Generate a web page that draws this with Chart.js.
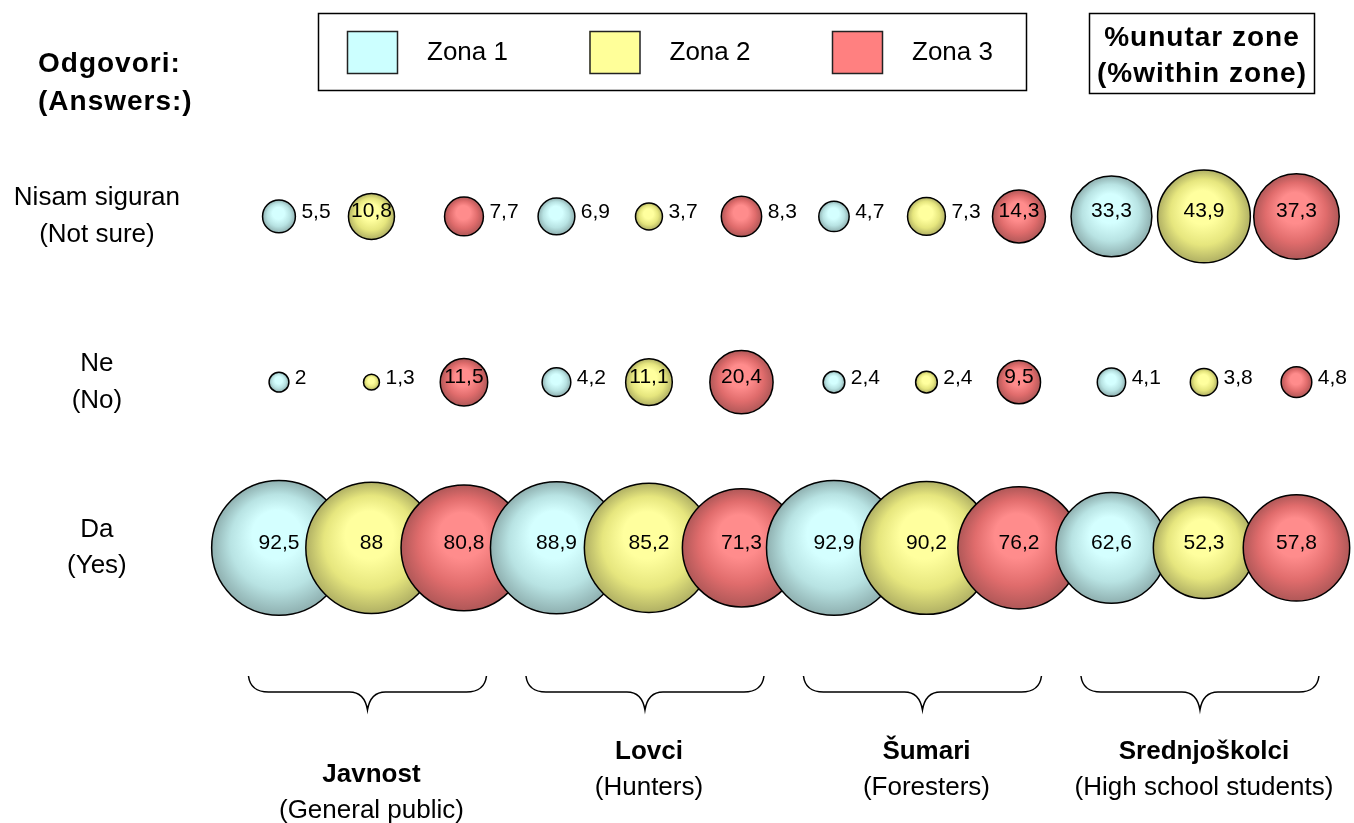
<!DOCTYPE html>
<html>
<head>
<meta charset="utf-8">
<script src="https://cdn.jsdelivr.net/npm/chart.js@4.4.1/dist/chart.umd.min.js"></script>
<style>
  html, body { margin: 0; padding: 0; background: #fff; }
  #wrap { width: 1354px; height: 823px; position: relative; }
</style>
</head>
<body>
<div id="wrap"><canvas id="chart"></canvas></div>
<script>
// --- data (values in %) ---
const zones = ['Zona 1', 'Zona 2', 'Zona 3'];
const groups = ['Javnost', 'Lovci', 'Šumari', 'Srednjoškolci'];
const groupsEn = ['(General public)', '(Hunters)', '(Foresters)', '(High school students)'];
const answers = [['Da', '(Yes)'], ['Ne', '(No)'], ['Nisam siguran', '(Not sure)']];

// one value per group, order: Javnost, Lovci, Šumari, Srednjoškolci
const zona1Da = [92.5, 88.9, 92.9, 62.6];
const zona1Ne = [2, 4.2, 2.4, 4.1];
const zona1Nisam = [5.5, 6.9, 4.7, 33.3];
const zona2Da = [88, 85.2, 90.2, 52.3];
const zona2Ne = [1.3, 11.1, 2.4, 3.8];
const zona2Nisam = [10.8, 3.7, 7.3, 43.9];
const zona3Da = [80.8, 71.3, 76.2, 57.8];
const zona3Ne = [11.5, 20.4, 9.5, 4.8];
const zona3Nisam = [7.7, 8.3, 14.3, 37.3];

const zoneSeries = [
  [zona1Da, zona1Ne, zona1Nisam],
  [zona2Da, zona2Ne, zona2Nisam],
  [zona3Da, zona3Ne, zona3Nisam]
];

const zoneLight = ['#d4ffff', '#ffff9e', '#ff8c8c'];
const zoneMid = ['#b8e3e3', '#e6e67e', '#e06c6c'];
const zoneDark = ['#8fb0b0', '#b0b064', '#b05858'];
const zoneFill = ['#ccffff', '#ffff99', '#ff8080'];

const FONT = "'Liberation Sans', Arial, sans-serif";
const bubbleScale = 7; // radius px per sqrt(%)

// build points column by column so that later bubbles draw on top
const points = [];
groups.forEach((g, gi) => {
  zones.forEach((z, zi) => {
    answers.forEach((a, ai) => {
      const v = zoneSeries[zi][ai][gi];
      points.push({ x: gi * 3 + zi, y: ai, r: bubbleScale * Math.sqrt(v), v: v, zone: zi });
    });
  });
});

const fmt = v => String(v).replace('.', ',');

// radial shading, computed from the scales
const shade = (ctx) => {
  const p = ctx.raw;
  if (!p || ctx.type !== 'data') return zoneFill[0];
  const chart = ctx.chart;
  const xs = chart.scales.x, ys = chart.scales.y;
  if (!xs || !ys || !chart.chartArea) return zoneFill[p.zone];
  const cx = xs.getPixelForValue(p.x);
  const cy = ys.getPixelForValue(p.y);
  if (!isFinite(cx) || !isFinite(cy)) return zoneFill[p.zone];
  const r = p.r;
  const g = chart.ctx.createRadialGradient(cx - r * 0.05, cy - r * 0.3, r * 0.02, cx, cy, r);
  g.addColorStop(0, zoneLight[p.zone]);
  g.addColorStop(0.35, zoneLight[p.zone]);
  g.addColorStop(0.7, zoneMid[p.zone]);
  g.addColorStop(1, zoneDark[p.zone]);
  return g;
};

const decor = {
  id: 'decor',
  afterDatasetsDraw(chart) {
    const c = chart.ctx;
    const meta = chart.getDatasetMeta(0);
    c.save();
    c.fillStyle = '#000';
    c.font = '21px ' + FONT;
    c.textBaseline = 'middle';
    meta.data.forEach((el, i) => {
      const p = points[i];
      const txt = fmt(p.v);
      if (p.v >= 9) {
        c.textAlign = 'center';
        c.fillText(txt, el.x, el.y - 5);
      } else {
        c.textAlign = 'left';
        c.fillText(txt, el.x + p.r + 6, el.y - 4);
      }
    });
    c.restore();
  },
  afterDraw(chart) {
    const c = chart.ctx;
    const xs = chart.scales.x;
    c.save();
    c.fillStyle = '#000';
    c.strokeStyle = '#000';

    // title on the left
    c.font = 'bold 28px ' + FONT;
    c.letterSpacing = '1px';
    c.textAlign = 'left';
    c.textBaseline = 'middle';
    c.fillText('Odgovori:', 38, 64);
    c.fillText('(Answers:)', 38, 102);

    // "% within zone" box
    c.lineWidth = 1.5;
    c.strokeRect(1089.5, 13.5, 225, 80);
    c.textAlign = 'center';
    c.fillText('%unutar zone', 1202, 38);
    c.fillText('(%within zone)', 1202, 74);
    c.letterSpacing = '0px';

    // legend box
    c.strokeRect(318.5, 13.5, 708, 77);
    c.font = '26px ' + FONT;
    zones.forEach((z, i) => {
      const sx = 347 + i * 242.5;
      c.fillStyle = zoneFill[i];
      c.fillRect(sx, 31, 50, 42);
      c.strokeStyle = '#222';
      c.strokeRect(sx + 0.5, 31.5, 50, 42);
      c.fillStyle = '#000';
      c.textAlign = 'left';
      c.fillText(z, sx + 80, 53);
    });

    // braces + group names
    c.strokeStyle = '#000';
    groups.forEach((g, gi) => {
      const cx = xs.getPixelForValue(gi * 3 + 1) - 4;
      const hw = 119, top = 676, mid = 692, tip = 710;
      c.beginPath();
      c.lineWidth = 1.5;
      c.moveTo(cx - hw, top);
      c.quadraticCurveTo(cx - hw + 2, mid, cx - hw + 20, mid);
      c.lineTo(cx - 18, mid);
      c.quadraticCurveTo(cx - 3, mid, cx, tip);
      c.quadraticCurveTo(cx + 3, mid, cx + 18, mid);
      c.lineTo(cx + hw - 20, mid);
      c.quadraticCurveTo(cx + hw - 2, mid, cx + hw, top);
      c.stroke();

      const ty = gi === 0 ? 775 : 752;
      c.textAlign = 'center';
      c.font = 'bold 26px ' + FONT;
      c.fillText(g, cx + 4, ty);
      c.font = '26px ' + FONT;
      c.fillText(groupsEn[gi], cx + 4, ty + 36);
    });
    c.restore();
  }
};

new Chart(document.getElementById('chart'), {
  type: 'bubble',
  data: {
    datasets: [{
      label: 'odgovori',
      data: points,
      backgroundColor: shade,
      borderColor: '#000',
      borderWidth: 1.5,
      clip: false
    }]
  },
  options: {
    responsive: true,
    maintainAspectRatio: false,
    animation: false,
    events: [],
    layout: { autoPadding: false, padding: { left: 0, right: 10, top: 117, bottom: 126 } },
    plugins: { legend: { display: false }, tooltip: { enabled: false } },
    scales: {
      x: {
        type: 'linear',
        display: false,
        min: -1.07,
        max: 11.514
      },
      y: {
        type: 'linear',
        min: -0.9,
        max: 2.6,
        border: { display: false },
        grid: { display: false, drawTicks: false },
        afterBuildTicks: (scale) => { scale.ticks = answers.map((a, i) => ({ value: i })); },
        afterFit: (scale) => { scale.width = 180; },
        ticks: {
          padding: 0,
          crossAlign: 'center',
          color: '#000',
          font: { family: FONT, size: 26, lineHeight: 1.42 },
          callback: (value) => answers[value] || ''
        }
      }
    }
  },
  plugins: [decor]
});
</script>
</body>
</html>
